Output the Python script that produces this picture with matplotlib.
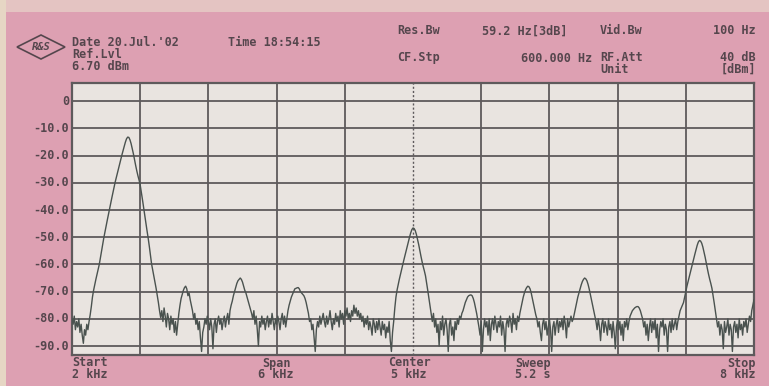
import numpy as np
import matplotlib
matplotlib.use("Agg")
import matplotlib.pyplot as plt
from matplotlib.patches import Polygon, Rectangle

# ---- sweep settings -------------------------------------------------------
start_hz = 2000
stop_hz = 8000
step_hz = 10
ref_level = 6.7          # dBm, top of screen
range_db = 100.0         # 10 dB/div

grid_levels = [0, -10, -20, -30, -40, -50, -60, -70, -80, -90]
grid_labels = ["0", "-10.0", "-20.0", "-30.0", "-40.0", "-50.0",
               "-60.0", "-70.0", "-80.0", "-90.0"]

# trace level in dBm, one value every 10 Hz (one row per 100 Hz)
trace_db = [
    -80, -82, -79, -84, -81, -83, -80, -85, -82, -86,                  # 2000
    -89, -84, -86, -82, -84, -81, -78.5, -75.5, -72, -69.5,            # 2100
    -67.5, -65.5, -63.7, -61.8, -60, -57.5, -55, -52.5, -50.2, -48,    # 2200
    -46, -43.8, -41.7, -39.6, -37.6, -35.6, -33.6, -31.6, -29.7, -28,  # 2300
    -26.3, -24.6, -22.9, -21.2, -19.6, -18, -16.5, -15, -13.8, -13.2,  # 2400
    -13.3, -14.2, -15.6, -17.4, -19.3, -21.5, -23.6, -25.6, -27.4, -29,  # 2500
    -30.8, -33.4, -36.2, -39.1, -42, -44.8, -47.6, -50.3, -53.3, -56.6,  # 2600
    -59.8, -62, -64.3, -66.5, -68.8, -71.3, -74, -77, -79.5, -77,      # 2700
    -81, -76, -79, -83, -78, -80, -84, -79, -82, -80,                  # 2800
    -85, -81, -86, -82, -78, -75, -72.5, -71, -69.5, -68.5,            # 2900
    -68, -69, -71.5, -70.5, -73, -75, -77, -80, -78, -82,              # 3000
    -80, -84, -81, -87, -92, -85, -83, -80, -82, -79,                  # 3100
    -81, -84, -80, -83, -91, -82, -80, -85, -81, -79,                  # 3200
    -82, -80, -84, -81, -79, -83, -80, -78, -82, -77,                  # 3300
    -75, -73.5, -71.5, -70, -68.5, -67, -66, -65.5, -65, -65.5,        # 3400
    -66.5, -68, -69.5, -70.5, -72, -73.5, -75, -76.5, -78, -80,        # 3500
    -77, -82, -79, -84, -90, -81, -83, -79, -82, -80,                  # 3600
    -84, -81, -79, -83, -80, -82, -78, -81, -84, -80,                  # 3700
    -82, -79, -81, -84, -80, -78, -82, -79, -83, -80,                  # 3800
    -77, -75, -73.5, -72, -71, -70, -69, -68.8, -68.6, -68.5,          # 3900
    -69, -70, -70.5, -71, -71.5, -72.5, -74, -76, -78, -81,            # 4000
    -80, -84, -82, -87, -92, -84, -81, -83, -79, -82,                  # 4100
    -80, -78, -81, -83, -79, -82, -80, -77, -81, -84,                  # 4200
    -80, -82, -78, -81, -79, -83, -77, -80, -78, -82,                  # 4300
    -77, -79, -76, -80, -78, -81, -77, -79, -75, -78,                  # 4400
    -76, -79, -77, -80, -78, -81, -79, -83, -80, -82,                  # 4500
    -79, -84, -81, -83, -86, -80, -82, -85, -81, -84,                  # 4600
    -80, -83, -86, -81, -84, -82, -87, -83, -85, -81,                  # 4700
    -88, -92, -85, -81, -76, -72, -69.4, -67.3, -65.4, -63.6,          # 4800
    -61.7, -59.9, -58.3, -56.6, -54.9, -53.2, -51.6, -49.9, -48.4, -47.2,  # 4900
    -46.6, -46.8, -47.6, -49, -50.8, -52.7, -54.9, -57, -59, -60.8,    # 5000
    -62.4, -64.2, -66.8, -69.6, -72.5, -75.4, -78.2, -81, -78, -83,    # 5100
    -80, -85, -82, -90, -81, -84, -79, -86, -82, -80,                  # 5200
    -84, -92, -82, -80, -86, -83, -88, -81, -84, -80,                  # 5300
    -82, -79, -80, -78, -77, -75.5, -74, -73, -72, -71.5,              # 5400
    -71.3, -71.2, -71.5, -72.5, -74, -76, -78, -80.5, -83, -86,        # 5500
    -81, -92, -84, -80, -83, -81, -86, -80, -88, -82,                  # 5600
    -80, -84, -79, -82, -85, -81, -83, -79, -86, -81,                  # 5700
    -84, -92, -82, -80, -83, -79, -81, -85, -78, -82,                  # 5800
    -80, -84, -79, -81, -78, -76, -74, -72, -70.5, -69.3,              # 5900
    -68.5, -68, -68.2, -69, -70.5, -72.5, -74.5, -76.5, -78.5, -80,    # 6000
    -83, -81, -85, -88, -82, -80, -84, -81, -86, -83,                  # 6100
    -80, -84, -92, -83, -81, -86, -82, -80, -85, -81,                  # 6200
    -83, -80, -84, -79, -82, -87, -80, -83, -81, -79,                  # 6300
    -81, -80, -78, -76, -74, -72, -70.5, -69, -67.5, -66.3,            # 6400
    -65.5, -65, -65.3, -66, -67.3, -69, -71, -73, -75, -77,            # 6500
    -79, -81, -84, -80, -83, -88, -82, -80, -85, -81,                  # 6600
    -83, -86, -80, -84, -82, -87, -81, -85, -91, -83,                  # 6700
    -80, -84, -81, -86, -82, -88, -81, -83, -80, -84,                  # 6800
    -81, -79, -78, -77, -76.5, -76, -75.7, -75.5, -75.5, -76,          # 6900
    -77, -78.5, -80, -83, -81, -86, -82, -88, -83, -80,                # 7000
    -85, -81, -84, -80, -87, -82, -92, -84, -81, -83,                  # 7100
    -80, -86, -82, -84, -92, -83, -81, -85, -80, -84,                  # 7200
    -82, -80, -84, -81, -79, -77, -76, -75, -74, -72,                  # 7300
    -69.9, -68, -66.3, -64.6, -62.9, -61.2, -59.5, -57.8, -56.2, -54.6,  # 7400
    -53, -51.8, -51.2, -51.4, -52.2, -53.6, -55.4, -57.3, -59.5, -61.6,  # 7500
    -63.6, -65.4, -67, -68.8, -71.4, -74.2, -77, -80, -83, -81,        # 7600
    -86, -82, -84, -91, -81, -85, -83, -80, -86, -82,                  # 7700
    -84, -92, -83, -81, -85, -82, -87, -80, -84, -82,                  # 7800
    -86, -81, -83, -80, -85, -82, -79, -81, -77, -75,                  # 7900
    -73,                                                               # 8000
]

freq_hz = np.arange(start_hz, stop_hz + step_hz, step_hz)
assert len(freq_hz) == len(trace_db)

# ---- colours ----------------------------------------------------------------
screen_pink = "#DDA0B2"
paper = "#E9E4E0"
grid_col = "#5E5A5C"
trace_col = "#4A524F"
text_col = "#55464D"

W, H = 769, 386
fig = plt.figure(figsize=(W / 100, H / 100), dpi=100)
fig.patch.set_facecolor(screen_pink)

# light margins of the photographed screen
fig.add_artist(Rectangle((0, 1 - 12 / H), 1, 12 / H, transform=fig.transFigure,
                         facecolor="#E4C4C2", edgecolor="none", zorder=0))
fig.add_artist(Rectangle((0, 0), 6 / W, 1, transform=fig.transFigure,
                         facecolor="#E6D6C4", edgecolor="none", zorder=0))

left, right, top, bottom = 72, 754, 83, 355
ax = fig.add_axes([left / W, 1 - bottom / H, (right - left) / W, (bottom - top) / H])
ax.set_facecolor(paper)
ax.set_xlim(start_hz, stop_hz)
ax.set_ylim(ref_level - range_db, ref_level)

# graticule
div_hz = (stop_hz - start_hz) / 10
for k in range(1, 10):
    xv = start_hz + k * div_hz
    if k == 5:
        ax.axvline(xv, color=grid_col, lw=1.0, ls=(0, (1.5, 1.5)), zorder=1)
    else:
        ax.axvline(xv, color=grid_col, lw=1.3, zorder=1)
for lv in grid_levels:
    ax.axhline(lv, color=grid_col, lw=1.3, zorder=1)

ax.plot(freq_hz, trace_db, color=trace_col, lw=1.0, zorder=3)

ax.set_xticks([])
ax.set_yticks([])
for s in ax.spines.values():
    s.set_color(grid_col)
    s.set_linewidth(1.6)

# ---- text -------------------------------------------------------------------
mono = dict(family="DejaVu Sans Mono", color=text_col, fontsize=8.5,
            fontweight="bold")


def put(x, y, s, ha="left", **kw):
    opts = dict(mono)
    opts.update(kw)
    fig.text(x / W, 1 - y / H, s, ha=ha, va="center", **opts)


for lv, lab in zip(grid_levels, grid_labels):
    yv = top + (ref_level - lv) / range_db * (bottom - top)
    put(69, yv, lab, ha="right")

put(72, 43, "Date 20.Jul.'02")
put(228, 43, "Time 18:54:15")
put(72, 55, "Ref.Lvl")
put(72, 67, "6.70 dBm")

put(397, 31, "Res.Bw")
put(482, 31, "59.2 Hz[3dB]")
put(600, 31, "Vid.Bw")
put(756, 31, "100 Hz", ha="right")
put(397, 58, "CF.Stp")
put(592, 58, "600.000 Hz", ha="right")
put(600, 57.5, "RF.Att")
put(756, 57.5, "40 dB", ha="right")
put(600, 69.5, "Unit")
put(756, 69.5, "[dBm]", ha="right")

put(72, 363, "Start")
put(72, 375, "2 kHz")
put(262, 363, "Span")
put(258, 375, "6 kHz")
put(388, 363, "Center")
put(391, 375, "5 kHz")
put(515, 363, "Sweep")
put(515, 375, "5.2 s")
put(756, 363, "Stop", ha="right")
put(756, 375, "8 kHz", ha="right")

# Rohde & Schwarz diamond badge
cx, cy = 41, 47
diamond = [(cx - 24, cy), (cx, cy - 12), (cx + 24, cy), (cx, cy + 12)]
fig.add_artist(Polygon([(px / W, 1 - py / H) for px, py in diamond],
                       closed=True, transform=fig.transFigure,
                       facecolor="none", edgecolor=text_col, lw=1.2))
put(cx, cy, "R&S", ha="center", fontsize=7.5, style="italic")

fig.savefig("out.png", dpi=100, facecolor=fig.get_facecolor())
